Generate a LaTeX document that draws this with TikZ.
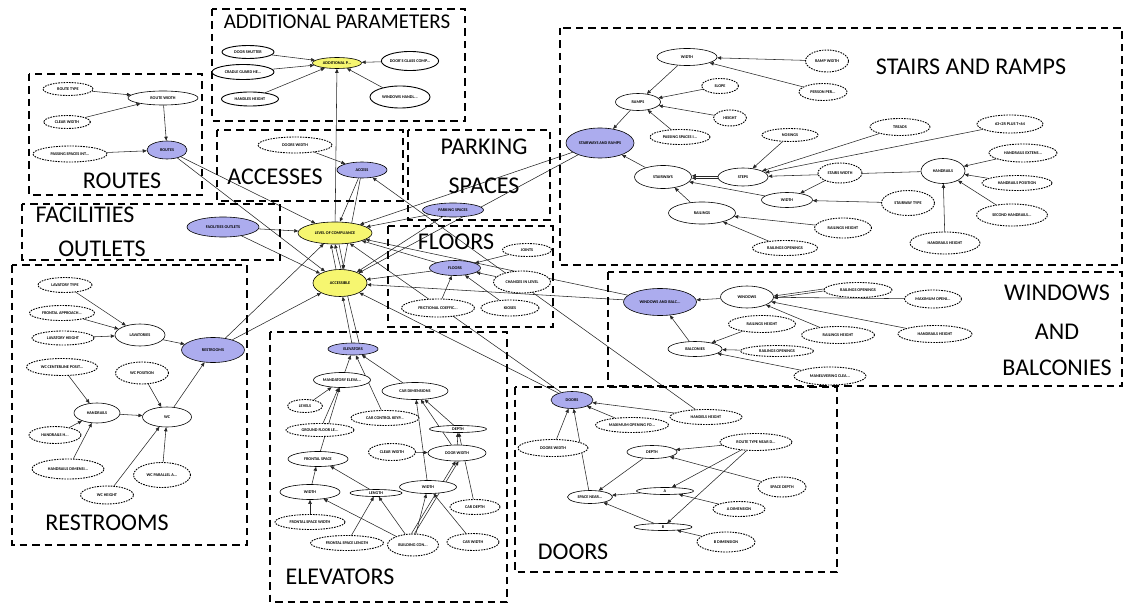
\documentclass[tikz,border=0pt]{standalone}
\usepackage{fontspec}
\setmainfont{Carlito}
\usetikzlibrary{shapes.geometric,arrows.meta,backgrounds}
\definecolor{nblue}{RGB}{172,172,238}
\definecolor{nyel}{RGB}{246,246,112}
\newcommand\nf{\fontsize{4.2}{4.6}\selectfont\bfseries}
\tikzset{
  base/.style={ellipse, inner sep=0pt, font=\nf, line width=0.6pt, draw},
  sz/.style 2 args={minimum width=#1pt, minimum height=#2pt},
  sol/.style={base, fill=white},
  das/.style={base, fill=white, line width=0.9pt, dash pattern=on 1.6pt off 1.1pt},
  blu/.style={base, fill=nblue},
  yel/.style={base, fill=nyel},
  grp/.style={draw, line width=1.9pt, dash pattern=on 7.5pt off 5pt},
  lbl/.style={inner sep=0pt, font=\fontsize{24}{24}\selectfont},
  arr/.style={-{Triangle[length=4pt,width=3.4pt]}, line width=0.55pt, draw=black!85},
}
\begin{document}
\begin{tikzpicture}[x=1pt,y=-1pt]
\useasboundingbox (0,0) rectangle (1124,604);
% group boxes
\draw[grp] (212,9) rectangle (465,121);
\draw[grp] (29,74) rectangle (202,195);
\draw[grp] (217,130) rectangle (403,201);
\draw[grp] (408,130) rectangle (550,220);
\draw[grp] (22,204) rectangle (280,260);
\draw[grp] (12,265) rectangle (247,545);
\draw[grp] (388,226) rectangle (553,327);
\draw[grp] (560,28) rectangle (1122,265);
\draw[grp] (608,272) rectangle (1122,386);
\draw[grp] (270,332) rectangle (507,602);
\draw[grp] (515,387) rectangle (837,572);
% group labels
\node[lbl, font=\fontsize{21}{21}\selectfont] (lAdd) at (337,22) {ADDITIONAL PARAMETERS};
\node[lbl] (lRoutes) at (122,181) {ROUTES};
\node[lbl] (lAcc) at (275,177) {ACCESSES};
\node[lbl] (lPark1) at (484,147) {PARKING};
\node[lbl] (lPark2) at (484,186) {SPACES};
\node[lbl] (lFac1) at (85,215) {FACILITIES};
\node[lbl] (lFac2) at (102,249) {OUTLETS};
\node[lbl] (lFloors) at (456,242) {FLOORS};
\node[lbl] (lStairs) at (971,67) {STAIRS AND RAMPS};
\node[lbl] (lWin1) at (1057,293) {WINDOWS};
\node[lbl] (lWin2) at (1057,332) {AND};
\node[lbl] (lWin3) at (1057,368) {BALCONIES};
\node[lbl] (lRest) at (107,523) {RESTROOMS};
\node[lbl] (lElev) at (340,577) {ELEVATORS};
\node[lbl] (lDoors) at (573,552) {DOORS};
% additional
\node[yel, sz={49}{11}] (addp) at (337,63) {ADDITIONAL P...};
\node[sol, line width=0.9pt, sz={52}{13}] (dshut) at (248,52) {DOOR SHUTTER};
\node[sol, line width=0.9pt, sz={62}{15}] (cradle) at (243,72) {CRADLE GUARD HE...};
\node[sol, line width=0.9pt, sz={57}{14}] (handh) at (250,99) {HANDLES HEIGHT};
\node[sol, line width=0.9pt, sz={53}{19}] (glass) at (410,61) {DOOR'S GLASS COMP...};
\node[sol, line width=0.9pt, sz={60}{22}] (winh) at (400,97) {WINDOWS HANDL...};
% routes
\node[das, sz={50}{13}] (rtype) at (68,89) {ROUTE TYPE};
\node[sol, sz={70}{14}] (rwidth) at (163,98) {ROUTE WIDTH};
\node[das, sz={47}{13}] (clearw) at (67,122) {CLEAR WIDTH};
\node[das, sz={74}{16}] (passing) at (70,154) {PASSING SPACES INT...};
\node[blu, sz={40}{18}] (routes) at (167,150) {ROUTES};
% accesses
\node[das, sz={74}{16}] (doorsw) at (295,145) {DOORS WIDTH};
\node[blu, sz={50}{16}] (access) at (362,170) {ACCESS};
% parking
\node[blu, sz={61}{14}] (parking) at (453,210) {PARKING SPACES};
% facilities
\node[blu, sz={72}{20}] (facil) at (223,227) {FACILITIES OUTLETS};
% center
\node[yel, sz={74}{22}] (loc) at (335,233) {LEVEL OF COMPLIANCE};
\node[yel, sz={54}{27}] (acc) at (340,283) {ACCESSIBLE};
% floors
\node[blu, sz={51}{15}] (floors) at (455,268) {FLOORS};
\node[das, sz={49}{13}] (joints) at (527,250) {JOINTS};
\node[das, sz={57}{22}] (chlevel) at (522,282) {CHANGES IN LEVEL};
\node[das, sz={73}{18}] (fric) at (438,308) {FRICTIONAL COEFFIC...};
\node[das, sz={58}{16}] (kioses) at (510,308) {KIOSES};
% stairs and ramps
\node[sol, sz={60}{17}] (swidth) at (687,57) {WIDTH};
\node[das, sz={43}{22}] (rampw) at (827,61) {RAMP WIDTH};
\node[das, sz={48}{17}] (person) at (823,92) {PERSON PER...};
\node[das, sz={37}{15}] (slope) at (720,86) {SLOPE};
\node[sol, sz={45}{17}] (ramps) at (638,102) {RAMPS};
\node[das, sz={33}{16}] (height) at (730,118) {HEIGHT};
\node[das, sz={60}{15}] (passi) at (680,137) {PASSING SPACES I...};
\node[das, sz={56}{13}] (nosings) at (790,135) {NOSINGS};
\node[das, sz={60}{17}] (treads) at (900,127) {TREADS};
\node[das, sz={66}{18}] (riser) at (1010,124) {63<2R PLUS T<64};
\node[blu, sz={68}{30}] (sar) at (600,143) {STAIRWAYS AND RAMPS};
\node[sol, sz={57}{23}] (stairways) at (663,177) {STAIRWAYS};
\node[sol, sz={50}{18}] (steps) at (743,177) {STEPS};
\node[das, sz={44}{20}] (stairsw) at (840,173) {STAIRS WIDTH};
\node[sol, sz={44}{25}] (handrails) at (943,171) {HANDRAILS};
\node[das, sz={68}{18}] (hext) at (1023,153) {HANDRAILS EXTENS...};
\node[das, sz={70}{15}] (hpos) at (1017,183) {HANDRAILS POSITION};
\node[das, sz={71}{22}] (hsec) at (1012,215) {SECOND HANDRAILS...};
\node[das, sz={70}{22}] (hheight) at (945,243) {HANDRAILS HEIGHT};
\node[das, sz={53}{25}] (stype) at (908,203) {STAIRWAY TYPE};
\node[sol, sz={51}{15}] (stwidth) at (787,200) {WIDTH};
\node[sol, sz={67}{22}] (railings) at (702,213) {RAILINGS};
\node[das, sz={57}{20}] (railh) at (843,228) {RAILINGS HEIGHT};
\node[das, sz={65}{15}] (railo) at (785,248) {RAILINGS OPENINGS};
% windows and balconies
\node[blu, sz={73}{27}] (wab) at (660,302) {WINDOWS AND BALC...};
\node[sol, sz={53}{22}] (windows) at (747,297) {WINDOWS};
\node[das, sz={68}{15}] (wro) at (858,290) {RAILINGS OPENINGS};
\node[das, sz={57}{18}] (wmax) at (933,299) {MAXIMUM OPENI...};
\node[das, sz={67}{17}] (wrh1) at (762,324) {RAILINGS HEIGHT};
\node[das, sz={73}{17}] (wrh2) at (838,335) {RAILINGS HEIGHT};
\node[das, sz={74}{17}] (whh) at (935,334) {HANDRAILS HEIGHT};
\node[sol, sz={54}{15}] (balc) at (695,349) {BALCONIES};
\node[das, sz={73}{11}] (wro2) at (777,351) {RAILINGS OPENINGS};
\node[das, sz={72}{18}] (wman) at (830,376) {MANEUVERING CLEA...};
% restrooms
\node[das, sz={54}{15}] (lavt) at (65,285) {LAVATORY TYPE};
\node[das, sz={65}{15}] (front) at (62,313) {FRONTAL APPROACH...};
\node[das, sz={62}{14}] (lavh) at (63,338) {LAVATORY HEIGHT};
\node[sol, sz={50}{22}] (lav) at (140,335) {LAVATORIES};
\node[blu, sz={63}{25}] (rest) at (213,350) {RESTROOMS};
\node[das, sz={71}{17}] (wccen) at (62,367) {WC CENTERLINE POSIT...};
\node[das, sz={53}{22}] (wcpos) at (142,373) {WC POSITION};
\node[sol, sz={46}{20}] (rhand) at (97,413) {HANDRAILS};
\node[sol, sz={49}{20}] (wc) at (167,417) {WC};
\node[das, sz={52}{17}] (rhh) at (55,435) {HANDRAILS H...};
\node[das, sz={72}{20}] (rhd) at (68,469) {HANDRAILS DIMENSI...};
\node[das, sz={57}{25}] (wcpar) at (162,475) {WC PARALLEL A...};
\node[das, sz={53}{18}] (wch) at (107,495) {WC HEIGHT};
% elevators
\node[blu, sz={50}{12}] (elev) at (353,349) {ELEVATORS};
\node[sol, sz={57}{15}] (mand) at (342,380) {MANDATORY ELEVA...};
\node[sol, sz={66}{17}] (cardim) at (415,391) {CAR DIMENSIONS};
\node[das, sz={35}{13}] (levels) at (305,406) {LEVELS};
\node[das, sz={68}{15}] (carctl) at (385,418) {CAR CONTROL KEYP...};
\node[das, sz={68}{13}] (ground) at (320,430) {GROUND FLOOR LE...};
\node[sol, sz={57}{7}] (edepth) at (458,429) {DEPTH};
\node[das, sz={47}{17}] (eclear) at (392,452) {CLEAR WIDTH};
\node[sol, sz={58}{16}] (edoorw) at (457,453) {DOOR WIDTH};
\node[sol, sz={60}{15}] (fspace) at (318,459) {FRONTAL SPACE};
\node[sol, sz={60}{15}] (ewidtha) at (310,492) {WIDTH};
\node[sol, sz={52}{7}] (elength) at (376,493) {LENGTH};
\node[sol, sz={57}{13}] (ewidthb) at (428,487) {WIDTH};
\node[das, sz={50}{15}] (cardepth) at (475,507) {CAR DEPTH};
\node[das, sz={70}{15}] (fsw) at (310,522) {FRONTAL SPACE WIDTH};
\node[das, sz={73}{15}] (fsl) at (347,543) {FRONTAL SPACE LENGTH};
\node[das, sz={51}{22}] (bldg) at (413,545) {BUILDING CON...};
\node[das, sz={52}{17}] (carw) at (473,542) {CAR WIDTH};
% doors
\node[blu, sz={42}{17}] (doors) at (572,400) {DOORS};
\node[das, sz={72}{15}] (hhd) at (706,417) {HANDELS HEIGHT};
\node[das, sz={73}{15}] (maxo) at (632,425) {MAXIMUM OPENING FO...};
\node[das, sz={70}{17}] (dwd) at (553,448) {DOORS WIDTH};
\node[sol, sz={50}{13}] (ddepth) at (652,452) {DEPTH};
\node[das, sz={72}{17}] (rtn) at (756,442) {ROUTE TYPE NEAR D...};
\node[das, sz={48}{20}] (sdep) at (782,487) {SPACE DEPTH};
\node[sol, sz={57}{7}] (da) at (665,491) {A};
\node[sol, sz={45}{13}] (snear) at (590,497) {SPACE NEAR...};
\node[das, sz={52}{15}] (adim) at (739,509) {A DIMENSION};
\node[sol, sz={58}{7}] (db) at (663,527) {B};
\node[das, sz={58}{20}] (bdim) at (726,542) {B DIMENSION};
% ---------------- edges
\begin{scope}[on background layer]
% additional
\foreach \s in {dshut,cradle,handh,glass,winh,loc} \draw[arr] (\s) -- (addp);
% routes
\draw[arr] (rtype) -- (rwidth);
\draw[arr] (clearw) -- (rwidth);
\draw[arr] (rwidth) -- (routes);
\draw[arr] (passing) -- (routes);
% access
\draw[arr] (doorsw) -- (access);
\draw[arr] (hhd) -- (access);
% central links
\foreach \s in {routes,access,parking,facil,sar,floors,wab,doors,rest}
  {\draw[arr] (\s) -- (loc); \draw[arr] (\s) -- (acc);}
\draw[arr] (elev) -- (acc);
\draw[arr] ([xshift=6pt]elev.north) -- (loc.south);
\draw[arr] ([xshift=-4pt]acc.north) -- ([xshift=-4pt]loc.south);
\draw[arr] ([xshift=4pt]loc.south) -- ([xshift=4pt]acc.north);
% floors
\foreach \s in {joints,chlevel,fric,kioses} \draw[arr] (\s) -- (floors);
% stairs and ramps
\draw[arr] (rampw) -- (swidth);
\draw[arr] (person) -- (swidth);
\draw[arr] (swidth) -- (ramps);
\draw[arr] (slope) -- (ramps);
\draw[arr] (height) -- (ramps);
\draw[arr] (passi) -- (ramps);
\draw[arr] (ramps) -- (sar);
\draw[arr] (stairways) -- (sar);
\draw[arr] ([yshift=-1.2pt]steps.west) -- ([yshift=-1.2pt]stairways.east);
\draw[arr] ([yshift=1.2pt]steps.west) -- ([yshift=1.2pt]stairways.east);
\draw[arr] (nosings) -- (steps);
\draw[arr] (treads) -- (steps);
\draw[arr] (riser) -- (steps);
\draw[arr] (handrails) -- (steps);
\draw[arr] (stairsw) -- (stwidth);
\draw[arr] (stype) -- (stwidth);
\draw[arr] (stwidth) -- (stairways);
\draw[arr] (railings) -- (stairways);
\draw[arr] (railh) -- (railings);
\draw[arr] (railo) -- (railings);
\foreach \s in {hext,hpos,hsec,hheight} \draw[arr] (\s) -- (handrails);
% windows
\draw[arr] (windows) -- (wab);
\draw[arr] (balc) -- (wab);
\draw[arr] ([yshift=-1pt]wro.west) -- ([yshift=-1pt]windows.east);
\draw[arr] ([yshift=1pt]wro.west) -- ([yshift=1pt]windows.east);
\draw[arr] (wmax) -- (windows);
\draw[arr] (wrh2) -- (windows);
\draw[arr] (whh) -- (windows);
\draw[arr] (wrh1) -- (balc);
\draw[arr] (wro2) -- (balc);
\draw[arr] (wman) -- (balc);
% restrooms
\foreach \s in {lavt,front,lavh} \draw[arr] (\s) -- (lav);
\draw[arr] (lav) -- (rest);
\draw[arr] (wc) -- (rest);
\foreach \s in {wccen,rhh,rhd} \draw[arr] (\s) -- (rhand);
\foreach \s in {rhand,wcpos,wch,wcpar} \draw[arr] (\s) -- (wc);
% elevators
\draw[arr] (mand) -- (elev);
\draw[arr] (carctl) -- (elev);
\draw[arr] (cardim) -- (elev);
\draw[arr] (levels) -- (mand);
\draw[arr] (ground) -- (mand);
\draw[arr] (fspace) -- (mand);
\draw[arr] (ewidtha) -- (fspace);
\draw[arr] (elength) -- (fspace);
\draw[arr] (fsw) -- (ewidtha);
\draw[arr] (fsl) -- (elength);
\draw[arr] (bldg) -- (elength);
\draw[arr] (bldg) -- (ewidtha);
\draw[arr] (bldg) -- (ewidthb);
\draw[arr] ([xshift=-1.5pt]bldg.north) -- ([xshift=-1.5pt]edoorw.south);
\draw[arr] ([xshift=1.5pt]bldg.north) -- ([xshift=1.5pt]edoorw.south);
\draw[arr] (carw) -- (ewidthb);
\draw[arr] (ewidthb) -- (cardim);
\draw[arr] (edoorw) -- (cardim);
\draw[arr] (edepth) -- (cardim);
\draw[arr] (eclear) -- (edoorw);
\draw[arr] (edoorw) -- (edepth);
\draw[arr] (cardepth) -- (edepth);
% doors
\draw[arr] (hhd) -- (doors);
\draw[arr] (maxo) -- (doors);
\draw[arr] (dwd) -- (doors);
\draw[arr] (snear) -- (doors);
\foreach \s in {ddepth,da,db} \draw[arr] (\s) -- (snear);
\draw[arr] (rtn) -- (ddepth);
\draw[arr] (rtn) -- (da);
\draw[arr] (rtn) -- (db);
\draw[arr] (sdep) -- (ddepth);
\draw[arr] (adim) -- (da);
\draw[arr] (bdim) -- (db);
\end{scope}
\end{tikzpicture}
\end{document}
